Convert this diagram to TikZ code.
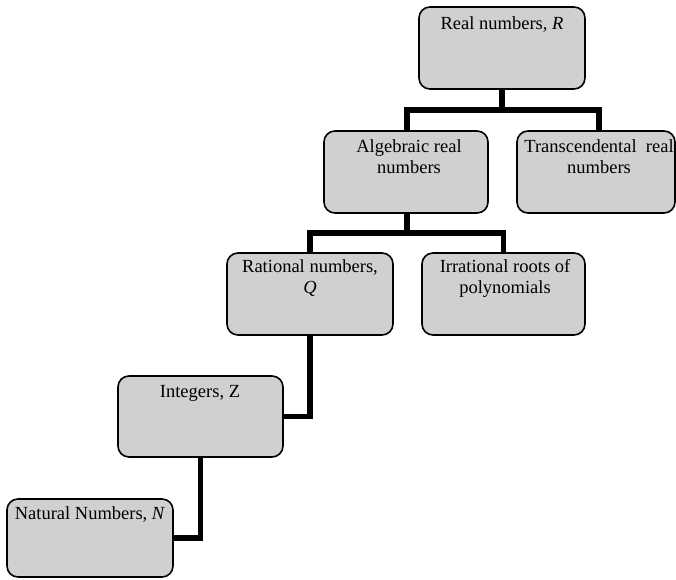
\documentclass[tikz,border=0pt]{standalone}
\usepackage{fontspec}
\setmainfont{Liberation Serif}
\begin{document}
\begin{tikzpicture}[x=1pt,y=-1pt,
  box/.style={draw=black,line width=1.6pt,fill=boxgray,rounded corners=11pt,inner sep=0pt},
  lbl/.style={anchor=base,align=center,inner sep=0pt,font=\fontsize{18.5}{21}\selectfont},
  conn/.style={draw=black,line width=5.5pt,line join=miter}]
\definecolor{boxgray}{HTML}{D0D0D0}
\useasboundingbox (0,0) rectangle (676,579);
% boxes
\node[box,minimum width=166pt,minimum height=82pt] (real) at (502,48) {};
\node[box,minimum width=164pt,minimum height=82pt] (alg) at (406,172) {};
\node[box,minimum width=158pt,minimum height=82pt] (trans) at (596,172) {};
\node[box,minimum width=166pt,minimum height=82pt] (rat) at (310,294) {};
\node[box,minimum width=163pt,minimum height=82pt] (irr) at (503.5,294) {};
\node[box,minimum width=165pt,minimum height=81pt] (int) at (200.5,416.5) {};
\node[box,minimum width=166pt,minimum height=78pt] (nat) at (90,538) {};
% texts
\node[lbl] (realt) at (502,29) {Real numbers, \textit{R}};
\node[lbl,anchor=north] (algt) at (409,139) {Algebraic real\\numbers};
\node[lbl,anchor=north] (transt) at (599,139) {Transcendental~~real\\numbers};
\node[lbl,anchor=north] (ratt) at (310,259) {Rational numbers,\\\textit{Q}};
\node[lbl,anchor=north] (irrt) at (505,259) {Irrational roots of\\polynomials};
\node[lbl] (intt) at (200,397) {Integers, Z};
\node[lbl] (natt) at (90,519) {Natural Numbers, \textit{N}};
% connectors
\coordinate (j1) at (502,110);
\coordinate (j2) at (407,233);
\draw[conn] (real.south) -- (j1) -| ([xshift=1pt]alg.north);
\draw[conn] (j1) -| ([xshift=3pt]trans.north);
\draw[conn] ([xshift=1pt]alg.south) -- (j2) -| (rat.north);
\draw[conn] (j2) -| (irr.north);
\draw[conn] (rat.south) |- (int.east);
\draw[conn] (int.south) |- (nat.east);
\end{tikzpicture}
\end{document}
